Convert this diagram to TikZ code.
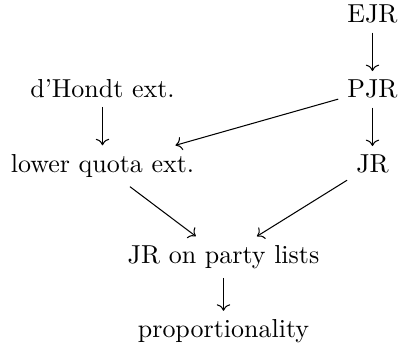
\documentclass[tikz,border=0pt]{standalone}
\usetikzlibrary{cd}
\begin{document}
\begin{tikzpicture}[x=0.385pt,y=-0.385pt,
  lab/.style={inner sep=3.33pt, anchor=base},
  arr/.style={-cm to, line width=0.4pt}]
\useasboundingbox (0,0) rectangle (398,347);
\node[lab] (ejr) at (372.5,23) {EJR};
\node[lab] (pjr) at (372.5,98) {PJR};
\node[lab] (dh) at (102.5,97.5) {d'Hondt ext.};
\node[lab] (lq) at (102.5,172.5) {lower quota ext.};
\node[lab] (jr) at (372.5,173) {JR};
\node[lab] (jrp) at (223.5,263.5) {JR on party lists};
\node[lab] (prop) at (223.5,338) {proportionality};
\draw[arr] (ejr) -- (pjr);
\draw[arr] (pjr) -- (jr);
\draw[arr] (pjr) -- (lq);
\draw[arr] (dh) -- (lq);
\draw[arr] (lq) -- (jrp);
\draw[arr] (jr) -- (jrp);
\draw[arr] (jrp) -- (prop);
\end{tikzpicture}
\end{document}
